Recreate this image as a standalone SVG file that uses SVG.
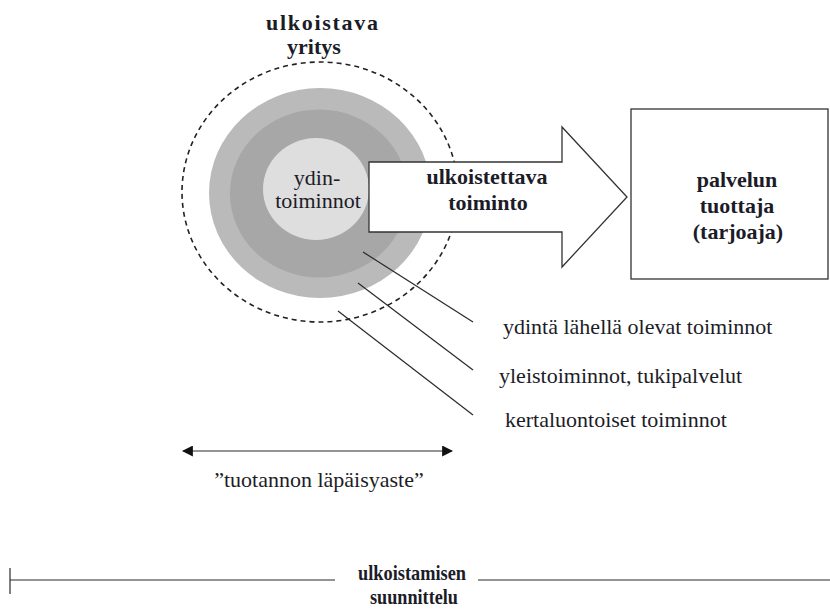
<svg xmlns="http://www.w3.org/2000/svg" width="830" height="609" viewBox="0 0 830 609">
<defs>
<style>
.t{font-family:"Liberation Serif","DejaVu Serif","Times New Roman",serif;font-size:22px;fill:#1c1c28;}
.b{font-weight:bold;}
.m{text-anchor:middle;}
.ln{stroke:#2a2a2a;stroke-width:1.2;fill:none;}
</style>
<marker id="ah" viewBox="0 0 10 10" refX="9" refY="5" markerWidth="11" markerHeight="11" markerUnits="userSpaceOnUse" orient="auto-start-reverse">
<path d="M0,0 L10,5 L0,10 Z" fill="#111"/>
</marker>
</defs>
<rect width="830" height="609" fill="#fff"/>

<g id="yritys" font-family="Liberation Serif, serif">
<ellipse cx="320" cy="193" rx="111" ry="105" fill="#bababa"/>
<ellipse cx="319" cy="193.5" rx="89" ry="84" fill="#a7a7a7"/>
<ellipse cx="316" cy="189" rx="53" ry="51" fill="#dedede"/>
<ellipse cx="320" cy="192" rx="138" ry="130" fill="none" stroke="#222" stroke-width="1.6" stroke-dasharray="5 4"/>
<text class="t b m" x="322" y="30" textLength="112">ulkoistava</text>
<text class="t b m" x="314" y="54">yritys</text>
<text class="t m" x="317" y="185">ydin-</text>
<text class="t m" x="318" y="208">toiminnot</text>
</g>

<g id="ulkoistettava">
<polygon points="369,162 562,162 562,127 627,197 562,267 562,232 369,232" fill="#fff" stroke="#333" stroke-width="1.3"/>
<text class="t b m" x="487" y="184">ulkoistettava</text>
<text class="t b m" x="488" y="210">toiminto</text>
</g>

<g id="tuottaja">
<rect x="631" y="109" width="197" height="170" fill="#fff" stroke="#333" stroke-width="1.3"/>
<text class="t b m" x="737" y="187">palvelun</text>
<text class="t b m" x="737" y="213">tuottaja</text>
<text class="t b m" x="738" y="239">(tarjoaja)</text>
</g>

<g id="labels">
<text class="t" x="503" y="334">ydintä lähellä olevat toiminnot</text>
<text class="t" x="499" y="383">yleistoiminnot, tukipalvelut</text>
<text class="t" x="505" y="427">kertaluontoiset toiminnot</text>
<text class="t m" x="319" y="487">”tuotannon läpäisyaste”</text>
</g>

<g id="suunnittelu">
<text class="t b m" x="412" y="580" textLength="108" lengthAdjust="spacingAndGlyphs">ulkoistamisen</text>
<text class="t b m" x="414" y="604" textLength="88" lengthAdjust="spacingAndGlyphs">suunnittelu</text>
</g>

<g id="connectors">
<line class="ln" x1="363" y1="252" x2="473" y2="322"/>
<line class="ln" x1="358" y1="283" x2="473" y2="370"/>
<line class="ln" x1="338" y1="311" x2="473" y2="415"/>
<line class="ln" x1="183" y1="451" x2="452" y2="451" stroke-width="1.6" marker-start="url(#ah)" marker-end="url(#ah)"/>
<line class="ln" x1="10" y1="580" x2="335" y2="580"/>
<line class="ln" x1="478" y1="580" x2="830" y2="580"/>
<line class="ln" x1="10" y1="568" x2="10" y2="594"/>
</g>
</svg>
